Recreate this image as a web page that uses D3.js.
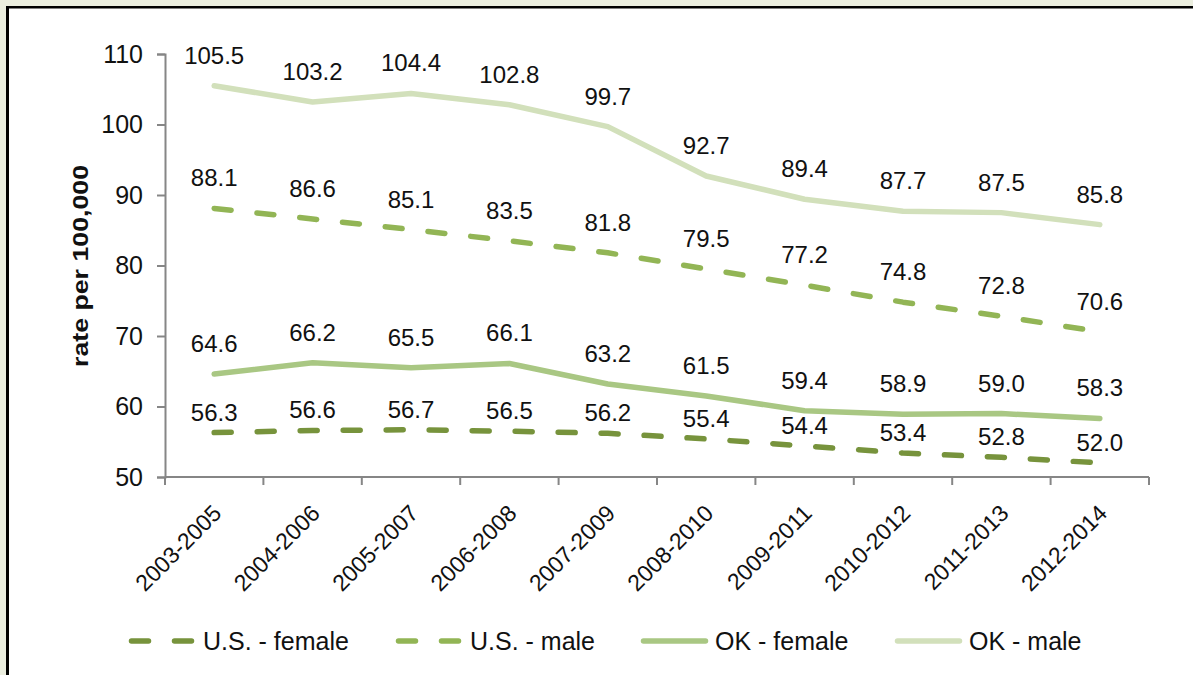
<!DOCTYPE html>
<html><head><meta charset="utf-8">
<script src="https://cdn.jsdelivr.net/npm/d3@7"></script>
<style>
html,body{margin:0;padding:0;background:#ebeedf;}
svg{display:block;}
text{font-family:"Liberation Sans",Arial,sans-serif;fill:#111;}
</style></head>
<body>
<svg id="chart" width="1193" height="675"></svg>
<script>
const categories = ["2003-2005","2004-2006","2005-2007","2006-2008","2007-2009","2008-2010","2009-2011","2010-2012","2011-2013","2012-2014"];
const usFemale = [56.3,56.6,56.7,56.5,56.2,55.4,54.4,53.4,52.8,52.0];
const usMale   = [88.1,86.6,85.1,83.5,81.8,79.5,77.2,74.8,72.8,70.6];
const okFemale = [64.6,66.2,65.5,66.1,63.2,61.5,59.4,58.9,59.0,58.3];
const okMale   = [105.5,103.2,104.4,102.8,99.7,92.7,89.4,87.7,87.5,85.8];
const seriesNames = ["U.S. - female","U.S. - male","OK - female","OK - male"];
const yTicks = [50,60,70,80,90,100,110];
const yTitle = "rate per 100,000";

const series = [
  {name: seriesNames[0], values: usFemale, color: "#77933c", dashed: true,  labelOff: 12},
  {name: seriesNames[1], values: usMale,   color: "#92b555", dashed: true,  labelOff: 22},
  {name: seriesNames[2], values: okFemale, color: "#a9c783", dashed: false, labelOff: 22},
  {name: seriesNames[3], values: okMale,   color: "#d2e0bb", dashed: false, labelOff: 22}
];

const svg = d3.select("#chart");
// frame
svg.append("rect").attr("x",6).attr("y",6).attr("width",1300).attr("height",800).attr("fill","#000");
svg.append("rect").attr("x",9).attr("y",8.5).attr("width",1300).attr("height",800).attr("fill","#fff");

const x = d3.scaleBand().domain(categories).range([165,1149]).padding(0);
const y = d3.scaleLinear().domain([50,110]).range([477,54]);
const axisColor = "#868686";

// y axis
const yAxis = svg.append("g").attr("transform","translate(165,0)")
  .call(d3.axisLeft(y).tickValues(yTicks).tickSize(8).tickPadding(14).tickFormat(d3.format("d")));
yAxis.select(".domain").attr("stroke",axisColor).attr("stroke-width",2);
yAxis.selectAll(".tick line").attr("stroke",axisColor).attr("stroke-width",2);
yAxis.selectAll(".tick text").attr("font-size",25).attr("fill","#111").attr("font-family","Liberation Sans, Arial, sans-serif");

// x axis
const xAxis = svg.append("g").attr("transform","translate(0,477)")
  .call(d3.axisBottom(x).tickSize(0).tickFormat(""));
xAxis.select(".domain").attr("stroke",axisColor).attr("stroke-width",2).attr("d","M165,0H1149");
const bounds = categories.map(c => x(c)).concat([x(categories[categories.length-1]) + x.bandwidth()]);
xAxis.selectAll("line.bt").data(bounds).join("line").attr("class","bt")
  .attr("x1",d=>d).attr("x2",d=>d).attr("y1",0).attr("y2",8)
  .attr("stroke",axisColor).attr("stroke-width",2);
xAxis.selectAll("text.cat").data(categories).join("text").attr("class","cat")
  .attr("transform",d=>`translate(${x(d)+x.bandwidth()/2+3},${32}) rotate(-45)`)
  .attr("text-anchor","end").attr("font-size",23).attr("dy","0.35em").text(d=>d);

// y title
svg.append("text").attr("transform","translate(88,266) rotate(-90)")
  .attr("text-anchor","middle").attr("font-size",22).attr("font-weight","bold")
  .attr("textLength",202).attr("lengthAdjust","spacingAndGlyphs").text(yTitle);

// lines
const line = d3.line().x((d,i)=>x(categories[i])+x.bandwidth()/2).y(d=>y(d));
const drawOrder = [3,1,2,0];
drawOrder.forEach(k=>{
  const s = series[k];
  svg.append("path").attr("d",line(s.values)).attr("fill","none")
    .attr("stroke",s.color).attr("stroke-width",5.5)
    .attr("stroke-linecap","round").attr("stroke-linejoin","round")
    .attr("stroke-dasharray", s.dashed ? "17,26" : null);
});
// labels
series.forEach(s=>{
  svg.append("g").selectAll("text").data(s.values).join("text")
    .attr("x",(d,i)=>x(categories[i])+x.bandwidth()/2)
    .attr("y",d=>y(d)-s.labelOff)
    .attr("text-anchor","middle").attr("font-size",24).text(d=>d.toFixed(1));
});

// legend
const legendPos = [129, 396, 641, 895];
const lg = svg.append("g");
series.forEach((s,i)=>{
  const x0 = legendPos[i];
  lg.append("line").attr("x1",x0+2.5).attr("x2",x0+64.5).attr("y1",641).attr("y2",641)
    .attr("stroke",s.color).attr("stroke-width",5.5).attr("stroke-linecap","round")
    .attr("stroke-dasharray", s.dashed ? "17,26" : null);
  lg.append("text").attr("x",x0+74).attr("y",641).attr("dy","0.35em")
    .attr("font-size",25).text(s.name);
});
</script>
</body></html>
